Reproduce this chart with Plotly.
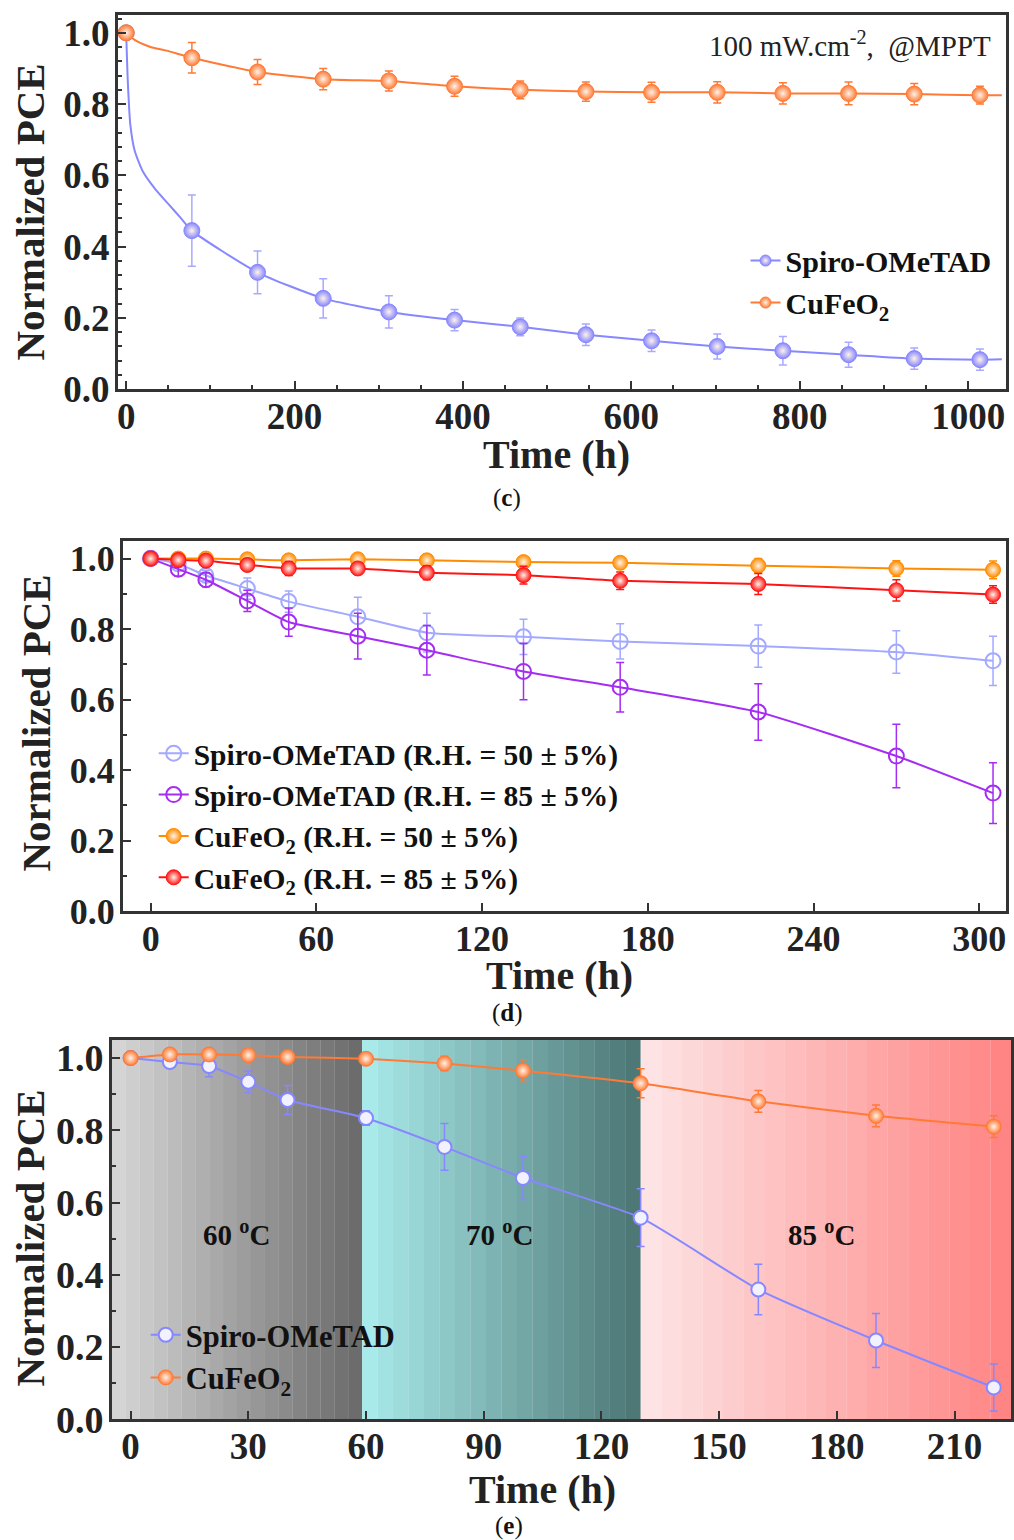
import plotly.graph_objects as go

W = 1014
REF_H = 1540      # layout positions below are given in pixels of a 1014 x 1540 page
FIG_H = 1560

# ---------------- panel (c): continuous operation at MPPT ----------------
c_time = [0, 78, 156, 234, 312, 390, 468, 546, 624, 702, 780, 858, 936, 1014]
c_spiro = [1.0, 0.445, 0.328, 0.255, 0.217, 0.194, 0.175, 0.153, 0.136, 0.12, 0.108, 0.097, 0.086, 0.083]
c_spiro_err = [0, 0.10, 0.06, 0.055, 0.045, 0.03, 0.025, 0.03, 0.03, 0.035, 0.04, 0.035, 0.03, 0.03]
c_cufeo2 = [1.0, 0.93, 0.89, 0.87, 0.865, 0.85, 0.84, 0.835, 0.833, 0.833, 0.83, 0.83, 0.828, 0.825]
c_cufeo2_err = [0, 0.043, 0.035, 0.03, 0.028, 0.028, 0.025, 0.027, 0.028, 0.03, 0.03, 0.032, 0.03, 0.025]

# tracked curves (early part read densely)
c_spiro_curve_t = [0, 2, 5, 10, 20, 35, 50, 65, 78, 156, 234, 312, 390, 468, 546, 624, 702, 780, 858, 936, 1014, 1040]
c_spiro_curve_v = [1.0, 0.86, 0.74, 0.67, 0.61, 0.56, 0.52, 0.48, 0.445, 0.328, 0.255, 0.217, 0.194, 0.175,
                   0.153, 0.136, 0.12, 0.108, 0.097, 0.086, 0.083, 0.084]
c_cufeo2_curve_t = [0, 10, 28, 48, 78, 156, 234, 312, 390, 468, 546, 624, 702, 780, 858, 936, 1014, 1040]
c_cufeo2_curve_v = [1.0, 0.98, 0.961, 0.95, 0.93, 0.89, 0.87, 0.865, 0.85, 0.84, 0.835, 0.833, 0.833, 0.83,
                    0.83, 0.828, 0.825, 0.825]

# ---------------- panel (d): humidity ----------------
d_time = [0, 10, 20, 35, 50, 75, 100, 135, 170, 220, 270, 305]
d_spiro50 = [1.0, 0.985, 0.952, 0.915, 0.878, 0.835, 0.79, 0.778, 0.765, 0.752, 0.735, 0.71]
d_spiro50_err = [0, 0.01, 0.015, 0.03, 0.03, 0.055, 0.055, 0.05, 0.05, 0.06, 0.06, 0.07]
d_spiro85 = [1.0, 0.97, 0.94, 0.88, 0.82, 0.78, 0.74, 0.68, 0.635, 0.565, 0.44, 0.335]
d_spiro85_err = [0, 0.02, 0.02, 0.03, 0.04, 0.065, 0.07, 0.08, 0.07, 0.08, 0.09, 0.086]
d_cufeo2_50 = [1.0, 1.0, 1.0, 0.998, 0.995, 0.998, 0.995, 0.99, 0.988, 0.98, 0.972, 0.968]
d_cufeo2_50_err = [0, 0.008, 0.008, 0.01, 0.01, 0.01, 0.012, 0.012, 0.015, 0.02, 0.022, 0.025]
d_cufeo2_85 = [1.0, 0.996, 0.994, 0.982, 0.972, 0.972, 0.96, 0.953, 0.937, 0.928, 0.91, 0.898]
d_cufeo2_85_err = [0, 0.008, 0.01, 0.015, 0.02, 0.015, 0.02, 0.025, 0.025, 0.03, 0.03, 0.025]

# ---------------- panel (e): temperature ----------------
e_time = [0, 10, 20, 30, 40, 60, 80, 100, 130, 160, 190, 220]
e_spiro = [1.0, 0.989, 0.978, 0.934, 0.884, 0.834, 0.754, 0.668, 0.558, 0.359, 0.218, 0.088]
e_spiro_err = [0, 0.012, 0.03, 0.03, 0.04, 0.02, 0.065, 0.06, 0.08, 0.07, 0.075, 0.065]
e_cufeo2 = [1.0, 1.01, 1.01, 1.008, 1.003, 0.998, 0.985, 0.965, 0.93, 0.88, 0.84, 0.81]
e_cufeo2_err = [0, 0.01, 0.012, 0.012, 0.015, 0.01, 0.02, 0.03, 0.04, 0.03, 0.03, 0.03]
e_stages = [(-4.8, 59, "60 <sup>o</sup>C", 27), (59, 130, "70 <sup>o</sup>C", 94), (130, 224.4, "85 <sup>o</sup>C", 176)]
e_stage_colors = [("#d4d4d4", "#6c6c6c"), ("#a8e9e9", "#4d7876"), ("#fde3e3", "#ff8585")]

SERIF = "Liberation Serif"
AX = "#333333"

BLUE = "#8787ff"
ORANGE = "#ff7a35"
LBLUE = "#a3a9ff"
PURPLE = "#a52cf2"
DORANGE = "#ff8c00"
RED = "#ff1414"


def err(vals, color):
    return dict(type="data", array=vals, visible=True, color=color, thickness=1.5, width=4)


def sphere(color, size=15):
    return dict(size=size, color=color, line=dict(color=color, width=1),
                gradient=dict(type="radial", color="#fff3e8"))


def hollow(color, size=15, fill="rgba(255,255,255,0)"):
    return dict(size=size, color=fill, line=dict(color=color, width=2))


fig = go.Figure()

# ---- (c) ----
fig.add_trace(go.Scatter(x=c_spiro_curve_t, y=c_spiro_curve_v, mode="lines", line=dict(color=BLUE, width=2, shape="spline", smoothing=0.6),
                         xaxis="x", yaxis="y", showlegend=False, hoverinfo="skip"))
fig.add_trace(go.Scatter(x=c_cufeo2_curve_t, y=c_cufeo2_curve_v, mode="lines", line=dict(color=ORANGE, width=2, shape="spline", smoothing=0.6),
                         xaxis="x", yaxis="y", showlegend=False, hoverinfo="skip"))
fig.add_trace(go.Scatter(x=c_time, y=c_spiro, mode="markers", marker=sphere(BLUE, 16), error_y=err(c_spiro_err, "#a9a9ff"),
                         xaxis="x", yaxis="y", showlegend=False))
fig.add_trace(go.Scatter(x=c_time, y=c_cufeo2, mode="markers", marker=sphere(ORANGE, 16), error_y=err(c_cufeo2_err, ORANGE),
                         xaxis="x", yaxis="y", showlegend=False))
# legend entries for (c)
fig.add_trace(go.Scatter(x=[None], y=[None], mode="lines+markers", name="Spiro-OMeTAD",
                         line=dict(color=BLUE, width=2), marker=sphere(BLUE, 11), xaxis="x", yaxis="y", legend="legend"))
fig.add_trace(go.Scatter(x=[None], y=[None], mode="lines+markers", name="CuFeO<sub>2</sub>",
                         line=dict(color=ORANGE, width=2), marker=sphere(ORANGE, 11), xaxis="x", yaxis="y", legend="legend"))

# ---- (d) ----
d_series = [
    ("Spiro-OMeTAD (R.H. = 50 ± 5%)", d_spiro50, d_spiro50_err, LBLUE, hollow(LBLUE)),
    ("Spiro-OMeTAD (R.H. = 85 ± 5%)", d_spiro85, d_spiro85_err, PURPLE, hollow(PURPLE)),
    ("CuFeO<sub>2</sub> (R.H. = 50 ± 5%)", d_cufeo2_50, d_cufeo2_50_err, DORANGE, sphere(DORANGE)),
    ("CuFeO<sub>2</sub> (R.H. = 85 ± 5%)", d_cufeo2_85, d_cufeo2_85_err, RED, sphere(RED)),
]
for name, vals, errs, col, mk in d_series:
    fig.add_trace(go.Scatter(x=d_time, y=vals, mode="lines+markers", name=name,
                             line=dict(color=col, width=2, shape="spline", smoothing=0.5),
                             marker=mk, error_y=err(errs, col), xaxis="x2", yaxis="y2", legend="legend2"))

# ---- (e) ----
fig.add_trace(go.Scatter(x=e_time, y=e_spiro, mode="lines+markers", name="Spiro-OMeTAD",
                         line=dict(color=BLUE, width=2, shape="spline", smoothing=0.5),
                         marker=hollow(BLUE, 14, "#f2f2ff"), error_y=err(e_spiro_err, BLUE),
                         xaxis="x3", yaxis="y3", legend="legend3"))
fig.add_trace(go.Scatter(x=e_time, y=e_cufeo2, mode="lines+markers", name="CuFeO<sub>2</sub>",
                         line=dict(color=ORANGE, width=2, shape="spline", smoothing=0.5),
                         marker=sphere(ORANGE), error_y=err(e_cufeo2_err, ORANGE),
                         xaxis="x3", yaxis="y3", legend="legend3"))


# banded colour gradients behind each temperature stage
def mix(c1, c2, f):
    a = [int(c1[i:i + 2], 16) for i in (1, 3, 5)]
    b = [int(c2[i:i + 2], 16) for i in (1, 3, 5)]
    return "#%02x%02x%02x" % tuple(round(a[k] + (b[k] - a[k]) * f) for k in range(3))


shapes = []
NB = 18
for (x0, x1, _, _), (ca, cb) in zip(e_stages, e_stage_colors):
    step = (x1 - x0) / NB
    for i in range(NB):
        shapes.append(dict(type="rect", xref="x3", yref="y3 domain", x0=x0 + i * step, x1=x0 + (i + 1) * step + 0.05,
                           y0=0, y1=1, fillcolor=mix(ca, cb, i / (NB - 1)), line=dict(width=0), layer="below"))


def px_x(p):
    return p / W


def px_y(p):
    return 1 - p / REF_H


def tickfont(size):
    return dict(family=SERIF, size=size, color="#222", weight="bold")


def axis(domain, rng, dtick, minor, anchor, tsize, fmt=None, standoff=0):
    a = dict(domain=domain, range=rng, dtick=dtick, tick0=0, anchor=anchor,
             showline=True, linecolor=AX, linewidth=2.5, mirror=True,
             ticks="inside", ticklen=8, tickwidth=2, tickcolor=AX,
             showgrid=False, zeroline=False, tickfont=tickfont(tsize),
             ticklabelstandoff=standoff)
    if minor:
        a["minor"] = dict(dtick=minor, ticks="inside", ticklen=4, tickwidth=1.5, tickcolor=AX, showgrid=False)
    if fmt:
        a["tickformat"] = fmt
    return a


dc_x = [px_x(117), px_x(1007)]
dc_y = [px_y(388), px_y(13)]
dd_x = [px_x(122), px_x(1007)]
dd_y = [px_y(911), px_y(540)]
de_x = [px_x(111), px_x(1012)]
de_y = [px_y(1420), px_y(1040)]


def legfont(size):
    return dict(family=SERIF, size=size, color="#111", weight="bold")


fig.update_layout(
    width=W, height=FIG_H, autosize=False,
    margin=dict(l=0, r=0, t=0, b=0),
    paper_bgcolor="white", plot_bgcolor="white",
    xaxis=axis(dc_x, [-10, 1045], 200, 50, "y", 37, standoff=-7),
    yaxis=axis(dc_y, [0, 1.05], 0.2, 0.04, "x", 37, ".1f", standoff=-2),
    xaxis2=axis(dd_x, [-10.1, 309.7], 60, None, "y2", 36, standoff=-6),
    yaxis2=axis(dd_y, [0, 1.05], 0.2, 0.1, "x2", 36, ".1f", standoff=-2),
    xaxis3=axis(de_x, [-4.8, 224.4], 30, None, "y3", 37, standoff=-7),
    yaxis3=axis(de_y, [0, 1.05], 0.2, 0.1, "x3", 38, ".1f", standoff=-2),
    legend=dict(x=px_x(746), y=px_y(233), xanchor="left", yanchor="top", bgcolor="rgba(0,0,0,0)",
                font=legfont(30), tracegroupgap=0, itemwidth=30),
    legend2=dict(x=px_x(153), y=px_y(727), xanchor="left", yanchor="top", bgcolor="rgba(0,0,0,0)",
                 font=legfont(29.5), tracegroupgap=0, itemwidth=30),
    legend3=dict(x=px_x(145), y=px_y(1309), xanchor="left", yanchor="top", bgcolor="rgba(0,0,0,0)",
                 font=legfont(30.5), tracegroupgap=0, itemwidth=30),
    shapes=shapes,
    showlegend=True,
)

titlefont_y = dict(family=SERIF, size=41, color="#222", weight="bold")
titlefont_x = dict(family=SERIF, size=40, color="#222", weight="bold")


def note(text, x, y, font, **kw):
    return dict(text=text, xref="paper", yref="paper", x=px_x(x), y=px_y(y), xanchor="center",
                yanchor="middle", showarrow=False, font=font, **kw)


cap = dict(family=SERIF, size=25, color="#111")
annotations = [
    dict(text="100 mW.cm<sup>-2</sup>,  @MPPT", xref="paper", yref="paper", x=px_x(994), y=px_y(43),
         xanchor="right", yanchor="middle", showarrow=False, font=dict(family=SERIF, size=29, color="#222")),
    # axis titles
    note("Normalized PCE", 29, 210, titlefont_y, textangle=-90),
    note("Time (h)", 557, 453, titlefont_x),
    note("Normalized PCE", 35, 722, titlefont_y, textangle=-90),
    note("Time (h)", 560, 975, titlefont_x),
    note("Normalized PCE", 29, 1238, titlefont_y, textangle=-90),
    note("Time (h)", 543, 1490, titlefont_x),
    # panel captions
    note("(<b>c</b>)", 507, 497, cap),
    note("(<b>d</b>)", 507, 1013, cap),
    note("(<b>e</b>)", 509, 1527, cap),
]
for x0, x1, label, xc in e_stages:
    annotations.append(dict(text=label, xref="x3", yref="y3", x=xc, y=0.515, showarrow=False,
                            font=dict(family=SERIF, size=29, color="#111", weight="bold")))
fig.update_layout(annotations=annotations)

fig.write_html("out.html")
